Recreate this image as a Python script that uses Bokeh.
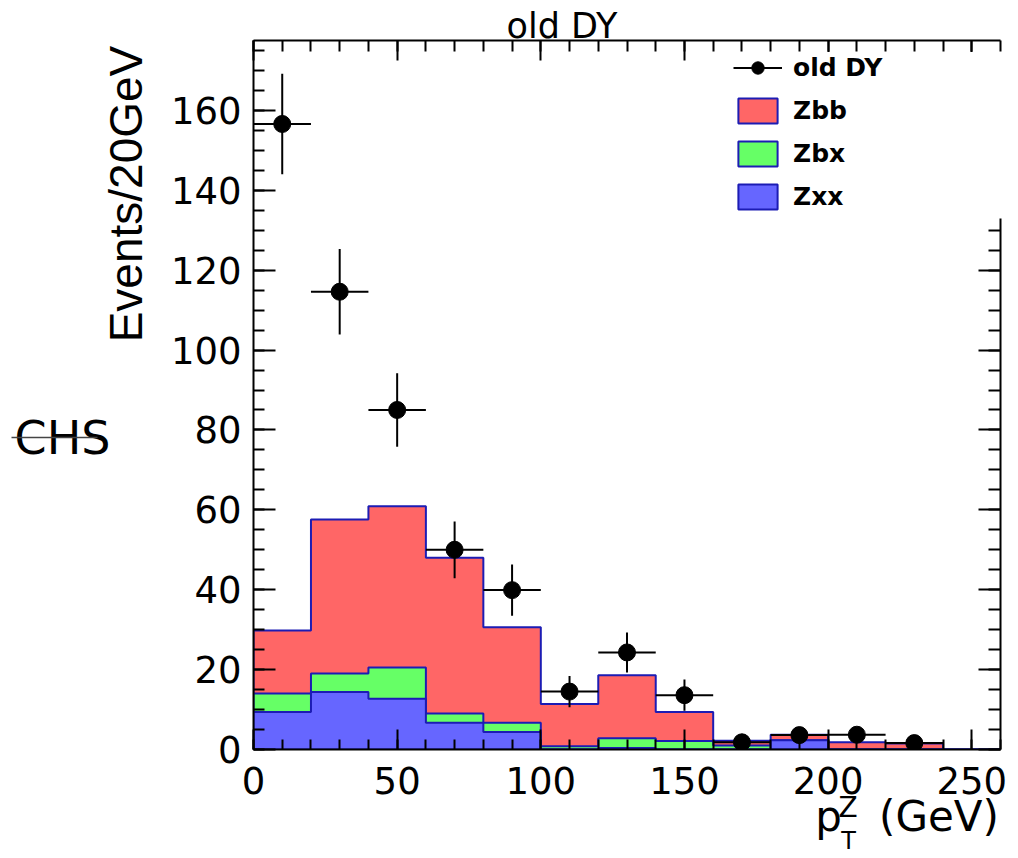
import numpy as np
from bokeh.plotting import figure
from bokeh.models import (Range1d, LinearAxis, SingleIntervalTicker, FixedTicker, AllLabels,
                          Legend, LegendItem, CustomJSTickFormatter, GridBox)
from bokeh.embed import file_html
from bokeh.resources import INLINE

# ---------------- data ----------------
bin_edges = [0, 20, 40, 60, 80, 100, 120, 140, 160, 180, 200, 220, 240, 260]
zxx = [9.4, 14.4, 12.7, 6.7, 4.4, 0.0, 0.4, 0.0, 0.0, 2.3, 0.0, 0.0, 0.0]
zbx = [4.6, 4.6, 7.8, 2.3, 2.3, 0.8, 2.4, 2.1, 1.0, 0.0, 0.0, 0.0, 0.0]
zbb = [15.8, 38.6, 40.4, 39.0, 23.9, 10.6, 15.8, 7.3, 1.2, 1.4, 1.8, 1.5, 0.0]

dy_x = [10, 30, 50, 70, 90, 110, 130, 150, 170, 190, 210, 230]
dy_y = [156.6, 114.6, 85.0, 50.0, 39.9, 14.5, 24.3, 13.6, 1.8, 3.6, 3.7, 1.6]
dy_err = [12.6, 10.7, 9.2, 7.1, 6.4, 3.9, 5.0, 3.9, 1.4, 1.9, 1.9, 1.3]
dy_xerr = [10, 10, 10, 10, 10, 10, 10, 10, 10, 10, 10, 10]

x_ticks_major = 50
y_ticks_major = 20

TICK_FONT = "DejaVu Sans"
TEXT_FONT = "DejaVu Sans"
YT_FONT = "Liberation Sans"

# ---------------- helpers ----------------
def step_poly(edges, vals):
    xs = [edges[0]]
    ys = [0.0]
    for i, v in enumerate(vals):
        xs += [edges[i], edges[i + 1]]
        ys += [v, v]
    xs.append(edges[-1])
    ys.append(0.0)
    return xs, ys

lvl_blue = np.array(zxx)
lvl_green = lvl_blue + np.array(zbx)
lvl_red = lvl_green + np.array(zbb)

# frame placement (px)
FL, FR, FT, FB = 253, 1000, 40, 749
W, H = 1018, 858

p = figure(width=W, height=H, output_backend="svg", toolbar_location=None,
           x_range=Range1d(0, 260), y_range=Range1d(0, 177.5),
           min_border_left=FL, min_border_right=W - FR,
           min_border_top=FT, min_border_bottom=H - FB,
           x_axis_location=None, y_axis_location=None, title=None)
p.xgrid.visible = False
p.ygrid.visible = False
p.outline_line_color = None
p.background_fill_color = "white"
p.border_fill_color = "white"

EDGE = "#1c1cb4"
xs, ys = step_poly(bin_edges, lvl_red)
r_red = p.patch(xs, ys, fill_color="#ff6666", line_color=EDGE, line_width=2)
xs, ys = step_poly(bin_edges, lvl_green)
r_green = p.patch(xs, ys, fill_color="#66ff66", line_color=EDGE, line_width=2)
xs, ys = step_poly(bin_edges, lvl_blue)
r_blue = p.patch(xs, ys, fill_color="#6666ff", line_color=EDGE, line_width=2)

dx = np.array(dy_x, dtype=float)
dyv = np.array(dy_y)
de = np.array(dy_err)
dxe = np.array(dy_xerr, dtype=float)
r_v = p.segment(x0=dx, y0=dyv - de, x1=dx, y1=dyv + de, line_color="black", line_width=2)
r_h = p.segment(x0=dx - dxe, y0=dyv, x1=dx + dxe, y1=dyv, line_color="black", line_width=2)
r_pt = p.scatter(dx, dyv, size=17, marker="circle", fill_color="black", line_color="black")

# ---------------- axes ----------------
def style_axis(ax, major_len, minor_len, labels=True):
    ax.axis_line_color = "black"
    ax.axis_line_width = 2
    ax.major_tick_line_color = "black"
    ax.major_tick_line_width = 2
    ax.minor_tick_line_color = "black"
    ax.minor_tick_line_width = 2
    ax.major_tick_in = major_len
    ax.major_tick_out = 0
    ax.minor_tick_in = minor_len
    ax.minor_tick_out = 0
    ax.major_label_text_font = TICK_FONT
    ax.major_label_text_font_size = "37px"
    ax.major_label_text_color = "black"
    if not labels:
        ax.formatter = CustomJSTickFormatter(code="return ''")
        ax.major_label_text_font_size = "0px"

xb = LinearAxis(ticker=SingleIntervalTicker(interval=x_ticks_major, num_minor_ticks=5))
style_axis(xb, 20, 10)
xb.major_label_standoff = 17
p.add_layout(xb, "below")

xt = LinearAxis(ticker=SingleIntervalTicker(interval=x_ticks_major, num_minor_ticks=5))
style_axis(xt, 20, 11, labels=False)
p.add_layout(xt, "above")

yl = LinearAxis(ticker=SingleIntervalTicker(interval=y_ticks_major, num_minor_ticks=4))
style_axis(yl, 22, 11)
yl.major_label_standoff = 12
p.add_layout(yl, "left")

yr = LinearAxis(ticker=SingleIntervalTicker(interval=y_ticks_major, num_minor_ticks=4),
                bounds=(0, 133))
style_axis(yr, 22, 12, labels=False)
p.add_layout(yr, "right")

# ---------------- legend ----------------
legend = Legend(items=[
    LegendItem(label="old DY", renderers=[r_h, r_pt]),
    LegendItem(label="Zbb", renderers=[r_red]),
    LegendItem(label="Zbx", renderers=[r_green]),
    LegendItem(label="Zxx", renderers=[r_blue]),
], location="top_right", margin=12, padding=16, spacing=12,
   glyph_width=49, glyph_height=31, label_standoff=11, label_width=195,
   label_text_font="DejaVu Sans", label_text_font_style="bold", label_text_font_size="25px",
   label_text_color="black", background_fill_color="white", background_fill_alpha=1.0,
   border_line_color=None)
p.add_layout(legend)

# ---------------- overlays: texts outside the frame, as axis labels ----------------
def overlay():
    q = figure(width=W, height=H, output_backend="svg", toolbar_location=None,
               x_range=Range1d(FL, FR), y_range=Range1d(FB, FT),
               min_border=0, min_border_left=0, min_border_right=0,
               min_border_top=0, min_border_bottom=0,
               x_axis_location=None, y_axis_location=None, title=None)
    q.xgrid.visible = False
    q.ygrid.visible = False
    q.outline_line_color = None
    q.background_fill_color = None
    q.border_fill_color = None
    return q


def bare_axis(ticks):
    ax = LinearAxis(ticker=FixedTicker(ticks=list(ticks), minor_ticks=[]),
                    major_label_policy=AllLabels())
    ax.axis_line_color = None
    ax.major_tick_line_color = None
    ax.minor_tick_line_color = None
    ax.major_tick_in = 0
    ax.major_tick_out = 0
    ax.minor_tick_in = 0
    ax.minor_tick_out = 0
    return ax


def text_axis(q, side, pos, texts, font, size, standoff, orientation="horizontal"):
    ax = bare_axis(pos)
    ax.major_label_overrides = {float(k): t for k, t in zip(pos, texts)}
    ax.major_label_text_font = font
    ax.major_label_text_font_size = size
    ax.major_label_text_color = "black"
    ax.major_label_standoff = standoff
    ax.major_label_orientation = orientation
    q.add_layout(ax, side)
    return ax

# label anchor positions in canvas pixels
title_x = [561.5]
ytitle_y = [193.5]
xtitle_x = [828.0, 938.5]
chs_y = [437.0]
sup_x = [847.5]
sub_x = [848.0]

q1 = overlay()
text_axis(q1, "above", title_x, ["old DY"], TEXT_FONT, "35px", -5)
text_axis(q1, "left", ytitle_y, ["Events/20GeV"], YT_FONT, "46px", 102, "vertical")
text_axis(q1, "below", xtitle_x, ["p", "(GeV)"], TEXT_FONT, "42px", 42)

q2 = overlay()
text_axis(q2, "left", chs_y, ["CHS"], TEXT_FONT, "46px", 143)
text_axis(q2, "below", sup_x, ["Z"], TEXT_FONT, "28px", 41)
# thin line of the marker drawn through "CHS" (a tick of an outer, label-less axis)
arrow_ax = bare_axis(chs_y)
arrow_ax.formatter = CustomJSTickFormatter(code="return ''")
arrow_ax.major_label_text_font_size = "0px"
arrow_ax.major_label_standoff = 0
arrow_ax.major_tick_line_color = "#444444"
arrow_ax.major_tick_line_width = 1.5
arrow_ax.major_tick_in = 86
q2.add_layout(arrow_ax, "left")

q3 = overlay()
text_axis(q3, "below", sub_x, ["T"], TEXT_FONT, "24px", 77)

layout = GridBox(children=[(p, 0, 0), (q1, 0, 0), (q2, 0, 0), (q3, 0, 0)])

open("out.html", "w").write(file_html(layout, INLINE))
